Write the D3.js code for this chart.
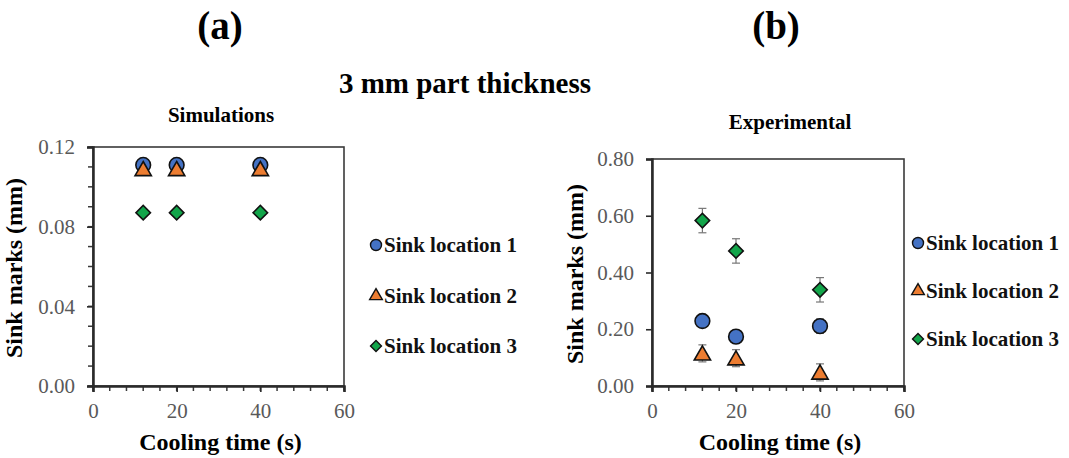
<!DOCTYPE html>
<html>
<head>
<meta charset="utf-8">
<script src="https://cdn.jsdelivr.net/npm/d3@7"></script>
<style>
  body { margin: 0; background: #fff; }
  text { font-family: "Liberation Serif", "Times New Roman", serif; }
</style>
</head>
<body>
<div id="chart"></div>
<script>
// cooling times (s)
const coolingTimes = [12, 20, 40];
const seriesNames = ["Sink location 1", "Sink location 2", "Sink location 3"];

// (a) simulations, mm
const simLoc1 = [0.111, 0.111, 0.111];
const simLoc2 = [0.109, 0.109, 0.109];
const simLoc3 = [0.087, 0.087, 0.087];

// (b) experimental, mm, with error
const expLoc1 = [0.229, 0.174, 0.211];
const expLoc2 = [0.115, 0.098, 0.048];
const expLoc3 = [0.583, 0.476, 0.339];
const expErr1 = [0.02, 0.02, 0.025];
const expErr2 = [0.03, 0.03, 0.03];
const expErr3 = [0.043, 0.043, 0.043];

const xTicks = [0, 20, 40, 60];
const simYTicks = [0, 0.04, 0.08, 0.12];
const expYTicks = [0, 0.2, 0.4, 0.6, 0.8];

const colors = ["#4472c4", "#ed7d31", "#12a54a"];
const shapes = [d3.symbolCircle, d3.symbolTriangle, d3.symbolSquare];
const rot = [0, 0, 45]; // square turned into a diamond

const W = 1069, H = 458;
const svg = d3.select("#chart").append("svg")
  .attr("width", W).attr("height", H);

svg.append("text").attr("x", 220).attr("y", 39).attr("text-anchor", "middle")
  .attr("font-size", 39).attr("font-weight", "bold").text("(a)");
svg.append("text").attr("x", 776).attr("y", 39).attr("text-anchor", "middle")
  .attr("font-size", 39).attr("font-weight", "bold").text("(b)");
svg.append("text").attr("x", 465).attr("y", 93).attr("text-anchor", "middle")
  .attr("font-size", 29).attr("font-weight", "bold").text("3 mm part thickness");

function panel(opts) {
  const x = d3.scaleLinear().domain([0, 60]).range([opts.left, opts.right]);
  const y = d3.scaleLinear().domain([0, opts.yMax]).range([opts.bottom, opts.top]);
  const g = svg.append("g");

  // frame
  g.append("rect")
    .attr("x", opts.left).attr("y", opts.top)
    .attr("width", opts.right - opts.left).attr("height", opts.bottom - opts.top)
    .attr("fill", "none").attr("stroke", "#3a3a3a").attr("stroke-width", 1.6);

  // minor ticks
  if (opts.yMinor) {
    g.selectAll(".ymin").data(d3.range(0, opts.yMax + 1e-9, opts.yMinor))
      .enter().append("line")
      .attr("x1", opts.left - 5).attr("x2", opts.left)
      .attr("y1", d => y(d)).attr("y2", d => y(d))
      .attr("stroke", "#3a3a3a").attr("stroke-width", 1.5);
  }
  g.selectAll(".xmin").data(d3.range(0, 61, 4))
    .enter().append("line")
    .attr("x1", d => x(d)).attr("x2", d => x(d))
    .attr("y1", opts.bottom).attr("y2", opts.bottom + 5)
    .attr("stroke", "#3a3a3a").attr("stroke-width", 1.5);

  // axes
  const yAxis = g.append("g").attr("transform", `translate(${opts.left},0)`)
    .call(d3.axisLeft(y).tickValues(opts.yTicks).tickSize(6).tickPadding(12)
      .tickFormat(d3.format(".2f")));
  const xAxis = g.append("g").attr("transform", `translate(0,${opts.bottom})`)
    .call(d3.axisBottom(x).tickValues(xTicks).tickSize(6).tickPadding(11)
      .tickFormat(d3.format("d")));
  [yAxis, xAxis].forEach(a => {
    a.select(".domain").attr("stroke", "#2a2a2a").attr("stroke-width", 2.5);
    a.selectAll(".tick line").attr("stroke", "#2a2a2a").attr("stroke-width", 1.6);
    a.selectAll(".tick text").attr("font-family", "Liberation Serif")
      .attr("font-size", 21).attr("fill", "#595959");
  });

  // titles
  g.append("text").attr("x", opts.titleX)
    .attr("y", opts.titleY).attr("text-anchor", "middle")
    .attr("font-size", 21).attr("font-weight", "bold").text(opts.title);
  g.append("text").attr("x", (opts.left + opts.right) / 2 + 2).attr("y", 450)
    .attr("text-anchor", "middle").attr("font-size", 24).attr("font-weight", "bold")
    .text("Cooling time (s)");
  g.append("text")
    .attr("transform", `translate(${opts.left - opts.yLabelGap},${opts.yLabelY}) rotate(-90)`)
    .attr("text-anchor", "middle").attr("font-size", 24).attr("font-weight", "bold")
    .text("Sink marks (mm)");

  // series
  opts.series.forEach((vals, i) => {
    const pts = coolingTimes.map((t, j) => ({ t: t, v: vals[j], e: opts.errs ? opts.errs[i][j] : 0 }));
    if (opts.errs) {
      const eg = g.append("g");
      pts.forEach(p => {
        eg.append("line").attr("x1", x(p.t)).attr("x2", x(p.t))
          .attr("y1", y(p.v - p.e)).attr("y2", y(p.v + p.e))
          .attr("stroke", "#777").attr("stroke-width", 1.2);
        [p.v - p.e, p.v + p.e].forEach(v => {
          eg.append("line").attr("x1", x(p.t) - 4).attr("x2", x(p.t) + 4)
            .attr("y1", y(v)).attr("y2", y(v))
            .attr("stroke", "#777").attr("stroke-width", 1.2);
        });
      });
    }
    g.selectAll(".s" + i).data(pts).enter().append("path")
      .attr("d", d3.symbol().type(shapes[i]).size([170, 115, 105][i]))
      .attr("transform", d => `translate(${x(d.t)},${y(d.v) + (i === 1 ? 2 : 0)}) rotate(${rot[i]})`)
      .attr("fill", colors[i]).attr("stroke", "#111").attr("stroke-width", 1.6);
  });

  // legend
  seriesNames.forEach((name, i) => {
    const ly = opts.legendY[i];
    svg.append("path")
      .attr("d", d3.symbol().type(shapes[i]).size([95, 70, 60][i]))
      .attr("transform", `translate(${opts.legendX},${ly}) rotate(${rot[i]})`)
      .attr("fill", colors[i]).attr("stroke", "#111").attr("stroke-width", 1.4);
    svg.append("text").attr("x", opts.legendX + 8).attr("y", ly + 7)
      .attr("font-size", 21).attr("font-weight", "bold").attr("fill", "#111")
      .text(name);
  });
}

panel({
  left: 93, right: 344, top: 147, bottom: 386, yMax: 0.12,
  yTicks: simYTicks, yMinor: 0.01,
  title: "Simulations", titleX: 221, titleY: 122,
  yLabelGap: 71, yLabelY: 268,
  series: [simLoc1, simLoc2, simLoc3], errs: null,
  legendX: 376, legendY: [245, 296, 346]
});

panel({
  left: 652, right: 904, top: 159, bottom: 386, yMax: 0.8,
  yTicks: expYTicks, yMinor: null,
  title: "Experimental", titleX: 790, titleY: 129,
  yLabelGap: 69, yLabelY: 274,
  series: [expLoc1, expLoc2, expLoc3], errs: [expErr1, expErr2, expErr3],
  legendX: 918, legendY: [243, 291, 339]
});
</script>
</body>
</html>
